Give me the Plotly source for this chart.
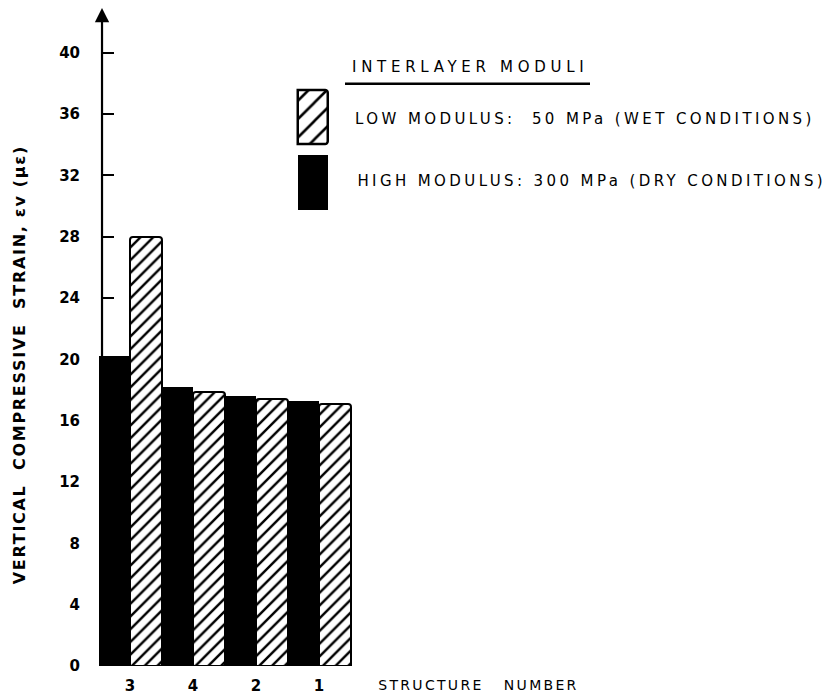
import json
import plotly.graph_objects as go

# Structure numbers in plotting order and the measured vertical compressive strain
structures = ["3", "4", "2", "1"]
high_modulus = [20.2, 18.2, 17.6, 17.3]   # 300 MPa interlayer (dry)
low_modulus = [28.0, 17.9, 17.4, 17.1]    # 50 MPa interlayer (wet)
y_ticks = [0, 4, 8, 12, 16, 20, 24, 28, 32, 36, 40]

high_name = "HIGH MODULUS: 300 MPa (DRY CONDITIONS)"
low_name = "LOW MODULUS:  50 MPa (WET CONDITIONS)"

FONT = "DejaVu Sans"
xpos = list(range(len(structures)))

# pixel -> paper helpers for the fixed 836x700 canvas
L, R, T, B = 80, 20, 5, 32
PW, PH = 836 - L - R, 700 - T - B


def px(x):
    return (x - L) / PW


def py(y):
    return (700 - B - y) / PH


fig = go.Figure()
fig.add_trace(go.Bar(
    x=xpos, y=high_modulus, name=high_name,
    marker=dict(color="black", line=dict(color="black", width=0)),
    showlegend=False,
))
fig.add_trace(go.Bar(
    x=xpos, y=low_modulus, name=low_name,
    marker=dict(color="white", line=dict(color="black", width=2), cornerradius=3,
                pattern=dict(shape="/", fgcolor="black", bgcolor="white",
                             fgopacity=1, size=9, solidity=0.27)),
    showlegend=False,
))

# Legend key swatches drawn on their own small axes
fig.add_trace(go.Bar(
    x=[1], y=[0], orientation="h", width=0.83, xaxis="x2", yaxis="y2",
    marker=dict(color="black", line=dict(width=0)), showlegend=False, hoverinfo="skip",
))
fig.add_trace(go.Bar(
    x=[1], y=[1], orientation="h", width=0.83, xaxis="x2", yaxis="y2",
    marker=dict(color="white", line=dict(color="black", width=2.5), cornerradius=3,
                pattern=dict(shape="/", fgcolor="black", bgcolor="white",
                             fgopacity=1, size=13, solidity=0.2)),
    showlegend=False, hoverinfo="skip",
))

fig.update_layout(
    width=836, height=700,
    margin=dict(l=L, r=R, t=T, b=B),
    paper_bgcolor="white", plot_bgcolor="white",
    barmode="group", bargap=0, bargroupgap=0,
    showlegend=False,
    xaxis=dict(
        range=[-0.794, 10.889], tickvals=xpos, ticktext=structures,
        showgrid=False, zeroline=False, showline=False, ticks="",
        tickfont=dict(family=FONT, size=15, color="black", weight="bold"),
        ticklabelstandoff=9,
    ),
    yaxis=dict(
        range=[0, 43.12], anchor="free", position=px(102),
        tickvals=y_ticks, ticks="inside", ticklen=11, tickwidth=2, tickcolor="black",
        showgrid=False, zeroline=False, showline=False,
        tickfont=dict(family=FONT, size=15, color="black", weight="bold"),
        ticklabelstandoff=22,
    ),
    xaxis2=dict(domain=[px(296), px(330)], range=[-0.06, 1.06], visible=False,
                anchor="y2", fixedrange=True),
    yaxis2=dict(domain=[py(216.5), py(84.5)], range=[-0.5, 1.5], visible=False,
                anchor="x2", fixedrange=True),
)

# letter spacing (px) applied to each annotation's text, in the order added
spacing = []


def note(spc, **kw):
    fig.add_annotation(**kw)
    spacing.append(spc)


def label(spc, x, y, text, size, weight="normal", angle=0):
    note(spc, x=px(x), y=py(y), xref="paper", yref="paper", showarrow=False,
         xanchor="center", yanchor="middle", text=text, textangle=angle,
         font=dict(family=FONT, size=size, color="black", weight=weight))


# Axis lines with arrowheads
axis_x = (102 - 130) / 63
note(0, x=axis_x, y=42.93, ax=axis_x, ay=-0.1, xref="x", yref="y",
     axref="x", ayref="y", showarrow=True, arrowhead=2, arrowsize=1.3,
     arrowwidth=2.2, arrowcolor="black", text="")
note(0, x=9.05, y=-0.05, ax=-0.55, ay=-0.05, xref="x", yref="y",
     axref="x", ayref="y", showarrow=True, arrowhead=2, arrowsize=1.3,
     arrowwidth=2.6, arrowcolor="black", text="")

# Axis titles
label(1.7, 20, 366, "VERTICAL  COMPRESSIVE  STRAIN, εv (με)", 16, "bold", -90)
label(2.3, 478, 687, "STRUCTURE   NUMBER", 14)

# Legend title and labels
label(4.7, 470, 67, "INTERLAYER MODULI", 15)
fig.add_shape(type="line", xref="paper", yref="paper",
              x0=px(345), x1=px(590), y0=py(84), y1=py(84),
              line=dict(color="black", width=2.5))
label(3.4, 585, 119, low_name, 15)
label(3.4, 592, 182, high_name, 15)

post = """
var gd = document.getElementById('{plot_id}');
var sp = %s;
gd.querySelectorAll('g.annotation').forEach(function (g) {
  var s = sp[+g.getAttribute('data-index')];
  if (s) g.querySelectorAll('text').forEach(function (t) {
    t.style.letterSpacing = s + 'px';
  });
});
""" % json.dumps(spacing)

fig.write_html("out.html", post_script=post)
